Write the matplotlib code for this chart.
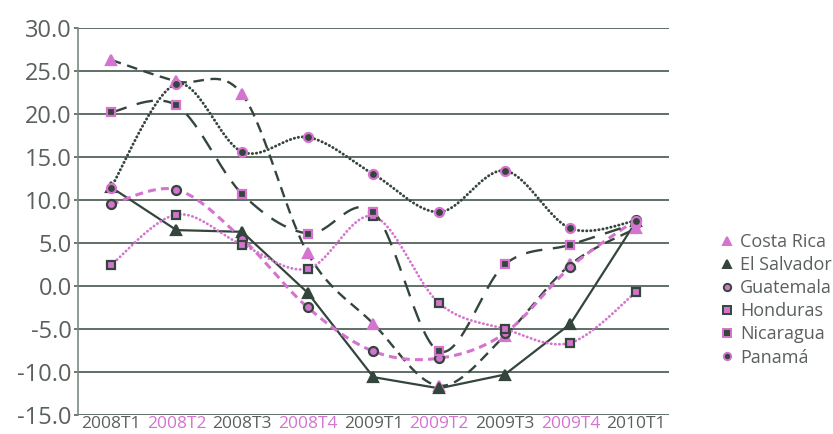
import numpy as np
import matplotlib
matplotlib.use("Agg")
import matplotlib.pyplot as plt
from matplotlib.lines import Line2D

plt.rcParams["font.family"] = ["Open Sans", "DejaVu Sans"]
plt.rcParams["axes.unicode_minus"] = False

quarters = ["2008T1", "2008T2", "2008T3", "2008T4", "2009T1",
            "2009T2", "2009T3", "2009T4", "2010T1"]

costa_rica = [26.3, 23.8, 22.3, 3.8, -4.4, -11.6, -5.8, 2.5, 6.7]
el_salvador = [11.5, 6.5, 6.3, -0.8, -10.6, -11.9, -10.3, -4.4, 7.5]
guatemala = [9.5, 11.2, 5.5, -2.5, -7.6, -8.4, -5.5, 2.2, 7.7]
honduras = [2.4, 8.3, 4.8, 2.0, 8.1, -2.0, -5.0, -6.6, -0.7]
nicaragua = [20.2, 21.0, 10.7, 6.1, 8.6, -7.6, 2.5, 4.8, 7.3]
panama = [11.4, 23.5, 15.6, 17.3, 13.0, 8.6, 13.4, 6.7, 7.6]

DARK = "#34463c"
PINK = "#d473d0"
GRID = "#53635a"
TEXT = "#5a605c"


def smooth(y, n=30):
    # cubic bezier through the points, tension like spreadsheet "smoothed line"
    x = np.arange(len(y), dtype=float)
    y = np.asarray(y, dtype=float)
    px = np.concatenate([[x[0]], x, [x[-1]]])
    py = np.concatenate([[y[0]], y, [y[-1]]])
    xs, ys = [], []
    t = np.linspace(0, 1, n)
    for i in range(1, len(x)):
        p0x, p0y = px[i], py[i]
        p3x, p3y = px[i + 1], py[i + 1]
        c1x = p0x + (px[i + 1] - px[i - 1]) / 6
        c1y = p0y + (py[i + 1] - py[i - 1]) / 6
        c2x = p3x - (px[i + 2] - px[i]) / 6
        c2y = p3y - (py[i + 2] - py[i]) / 6
        b = [(1 - t) ** 3, 3 * (1 - t) ** 2 * t, 3 * (1 - t) * t ** 2, t ** 3]
        xs.append(b[0] * p0x + b[1] * c1x + b[2] * c2x + b[3] * p3x)
        ys.append(b[0] * p0y + b[1] * c1y + b[2] * c2y + b[3] * p3y)
    return np.concatenate(xs), np.concatenate(ys)


fig = plt.figure(figsize=(8.33, 4.34), dpi=100)
ax = fig.add_axes([0.0936, 0.0438, 0.7094, 0.8917])
x = np.arange(len(quarters))

# lines
sx, sy = smooth(costa_rica)
ax.plot(sx, sy, color=DARK, lw=1.7, dashes=(4.5, 2.8), zorder=3)
ax.plot(x, el_salvador, color=DARK, lw=1.6, zorder=3)
sx, sy = smooth(guatemala)
ax.plot(sx, sy, color=PINK, lw=2.2, dashes=(2.6, 1.7), zorder=3)
sx, sy = smooth(honduras)
ax.plot(sx, sy, color=PINK, lw=2.0, dashes=(0.1, 1.4), dash_capstyle="round", zorder=3)
sx, sy = smooth(nicaragua)
ax.plot(sx, sy, color=DARK, lw=1.7, dashes=(7.0, 4.5), zorder=3)
sx, sy = smooth(panama)
ax.plot(sx, sy, color=DARK, lw=2.1, dashes=(0.1, 1.3), dash_capstyle="round", zorder=3)

# markers
styles = {
    "Costa Rica": (costa_rica, "^", PINK, PINK, 7.5),
    "El Salvador": (el_salvador, "^", DARK, DARK, 6.5),
    "Guatemala": (guatemala, "o", PINK, DARK, 6.5),
    "Honduras": (honduras, "s", PINK, DARK, 6.3),
    "Nicaragua": (nicaragua, "s", DARK, PINK, 6.3),
    "Panamá": (panama, "o", DARK, PINK, 6.5),
}
handles = []
for name, (vals, m, face, edge, ms) in styles.items():
    ax.plot(x, vals, ls="none", marker=m, ms=ms, mfc=face, mec=edge,
            mew=1.6, zorder=4)
    handles.append(Line2D([], [], ls="none", marker=m, ms=ms - 1.2, mfc=face,
                          mec=edge, mew=1.4, label=name))

ax.set_xlim(-0.5, len(quarters) - 0.5)
ax.set_ylim(-15, 30)
ax.set_yticks(np.arange(-15, 31, 5))
ax.set_yticklabels([f"{v:.1f}" for v in np.arange(-15, 31, 5)])
ax.set_xticks(x)
ax.set_xticklabels(quarters)
for i, lab in enumerate(ax.get_xticklabels()):
    lab.set_color(PINK if i % 2 else TEXT)

ax.tick_params(axis="y", labelsize=17, colors=TEXT, length=3, width=1.2,
               color=GRID, pad=1.5)
ax.tick_params(axis="x", labelsize=12.5, length=0, pad=1)
ax.grid(axis="y", color=GRID, lw=1.3)
ax.set_axisbelow(True)
for side in ["top", "right", "bottom"]:
    ax.spines[side].set_visible(False)
ax.spines["left"].set_color("#7a8a80")
ax.spines["left"].set_linewidth(1.2)

leg = fig.legend(handles=handles, loc="center left",
                 bbox_to_anchor=(0.857, 0.309), frameon=False,
                 handlelength=0.6, handletextpad=0.45, labelspacing=0.28,
                 fontsize=13, borderaxespad=0)
for t in leg.get_texts():
    t.set_color(TEXT)

fig.savefig("out.png", dpi=100)
